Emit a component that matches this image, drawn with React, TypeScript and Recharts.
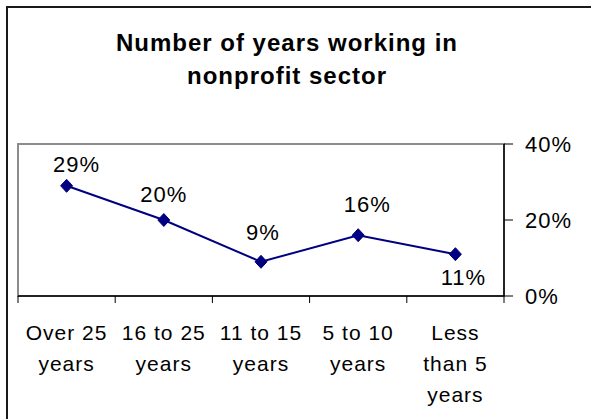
import { LineChart, Line, XAxis, YAxis, ReferenceArea, LabelList } from 'recharts'

const CATEGORIES = ['Over 25 years', '16 to 25 years', '11 to 15 years', '5 to 10 years', 'Less than 5 years']
// how each category label wraps in the reference
const CATEGORY_LINES = [
  ['Over 25', 'years'],
  ['16 to 25', 'years'],
  ['11 to 15', 'years'],
  ['5 to 10', 'years'],
  ['Less', 'than 5', 'years'],
]
const SHARES = [0.29, 0.2, 0.09, 0.16, 0.11]
const Y_TICKS = [0, 0.2, 0.4]
const TITLE_LINES = ['Number of years working in', 'nonprofit sector']

// label nudges (Excel places them a bit irregularly)
const LABEL_DX = [10, 0, 2, 9, 8]
const LABEL_DY = [-14, -18, -22, -23, 31]

const FONT = 'Arial, "Liberation Sans", sans-serif'
const NAVY = '#000080'
const HALF_BAND = 48.7

const data = CATEGORIES.map((c, i) => ({ cat: c, share: SHARES[i] }))

const pct = (v: number) => `${Math.round(v * 100)}%`

function CategoryTick(props: any) {
  const { x, y, payload, index } = props
  const half = payload && payload.offset ? payload.offset : HALF_BAND
  const lines = CATEGORY_LINES[index] || [String(payload.value)]
  const top = y - 7
  return (
    <g>
      <line x1={x - half} x2={x - half} y1={top} y2={top + 7} stroke="#000" />
      {index === CATEGORIES.length - 1 && (
        <line x1={x + half} x2={x + half} y1={top} y2={top + 7} stroke="#000" />
      )}
      {lines.map((l: string, k: number) => (
        <text
          key={k}
          x={x}
          y={top + 44 + k * 31}
          textAnchor="middle"
          fontFamily={FONT}
          fontSize={21}
          letterSpacing={1}
          fill="#000"
        >
          {l}
        </text>
      ))}
    </g>
  )
}

function Diamond(props: any) {
  const { cx, cy } = props
  if (cx == null || cy == null) return null
  return (
    <polygon
      points={`${cx},${cy - 6.5} ${cx + 6},${cy} ${cx},${cy + 6.5} ${cx - 6},${cy}`}
      fill={NAVY}
      stroke={NAVY}
    />
  )
}

function ValueLabel(props: any) {
  const { x, y, value, index } = props
  return (
    <text
      x={x + (LABEL_DX[index] ?? 0)}
      y={y + (LABEL_DY[index] ?? -20)}
      textAnchor="middle"
      fontFamily={FONT}
      fontSize={22}
      letterSpacing={1}
      fill="#000"
    >
      {pct(value)}
    </text>
  )
}

export default function App() {
  return (
    <div style={{ position: 'absolute', left: 0, top: 0, width: 591, height: 419, background: '#fff', overflow: 'hidden' }}>
      <div
        style={{
          position: 'absolute',
          left: 6,
          top: 6,
          width: 700,
          height: 600,
          borderLeft: '2px solid #1a1a1a',
          borderTop: '2px solid #1a1a1a',
        }}
      />
      {TITLE_LINES.map((t, i) => (
        <div
          key={t}
          style={{
            position: 'absolute',
            left: 0,
            width: 574,
            top: 29 + i * 33,
            textAlign: 'center',
            fontFamily: FONT,
            fontWeight: 'bold',
            fontSize: 24,
            letterSpacing: 1,
            lineHeight: '28px',
            color: '#000',
          }}
        >
          {t}
        </div>
      ))}
      <div style={{ position: 'absolute', left: 0, top: 0 }}>
        <LineChart width={591} height={419} data={data} margin={{ top: 144, right: 0, bottom: 0, left: 18 }}>
          <ReferenceArea y1={0} y2={0.4} fill="none" stroke="#8c8c8c" strokeWidth={2} ifOverflow="visible" />
          <XAxis
            dataKey="cat"
            scale="band"
            height={123}
            axisLine={{ stroke: '#000', strokeWidth: 1.5 }}
            tickLine={false}
            tickSize={7}
            tickMargin={0}
            interval={0}
            tick={<CategoryTick />}
          />
          <YAxis
            orientation="right"
            width={87}
            domain={[0, 0.4]}
            ticks={Y_TICKS}
            tickFormatter={pct}
            axisLine={{ stroke: '#000', strokeWidth: 1.5 }}
            tickLine={{ stroke: '#000' }}
            tickSize={9}
            tickMargin={12}
            tick={{ fill: '#000', fontSize: 22, fontFamily: FONT, letterSpacing: 1, textAnchor: 'start' }}
          />
          <Line
            dataKey="share"
            stroke={NAVY}
            strokeWidth={2}
            dot={<Diamond />}
            activeDot={false}
            isAnimationActive={false}
          >
            <LabelList dataKey="share" content={<ValueLabel />} />
          </Line>
        </LineChart>
      </div>
    </div>
  )
}
